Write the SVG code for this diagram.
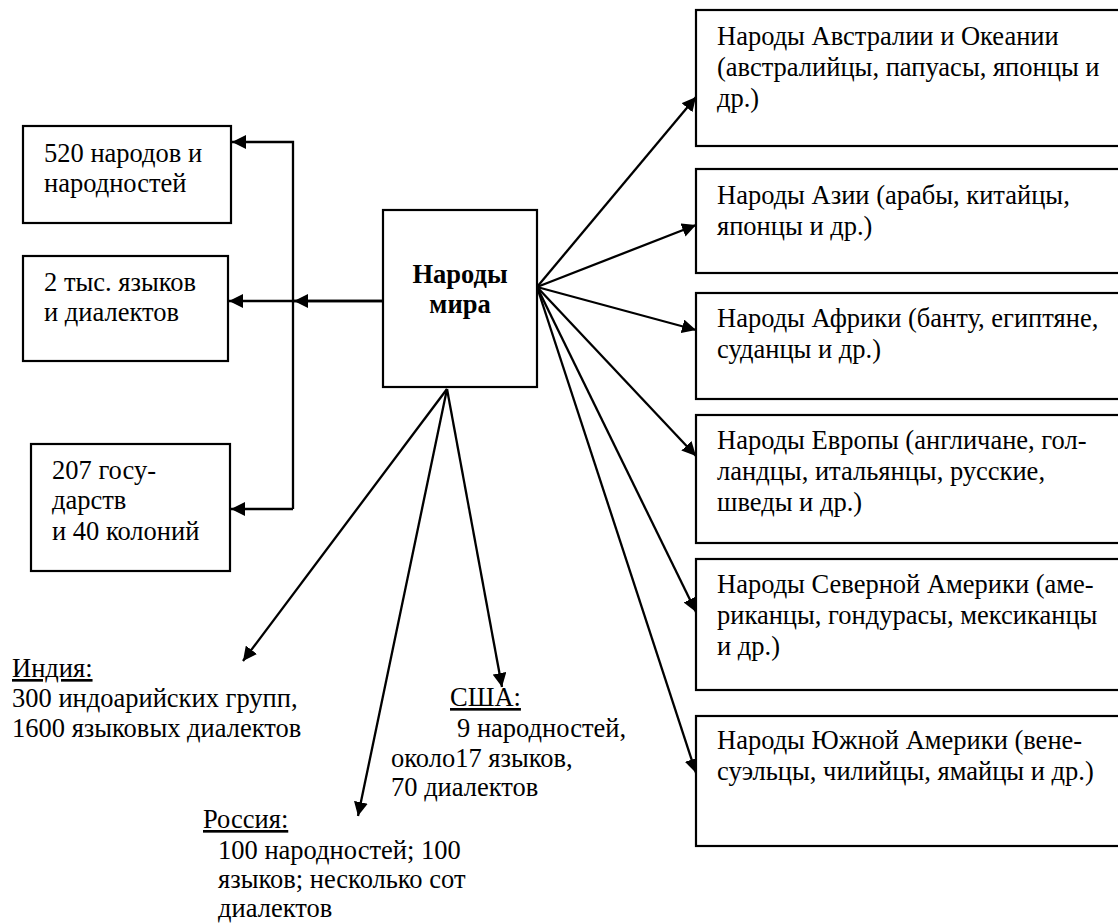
<svg xmlns="http://www.w3.org/2000/svg" width="1118" height="923" viewBox="0 0 1118 923">
<style>
.box{fill:#fff;stroke:#000;stroke-width:2.2}
.t{font-family:'Liberation Serif','Times New Roman',serif;font-size:26.5px;fill:#000}
.b{font-weight:bold;text-anchor:middle}
.u{text-decoration:underline}
.c{fill:none;stroke:#000;stroke-width:2.3}
</style>
<defs>
<marker id="ah" markerUnits="userSpaceOnUse" markerWidth="15" markerHeight="14" refX="14" refY="7" orient="auto">
<path d="M0,0 L14,7 L0,14 z" fill="#000"/>
</marker>
</defs>
<rect width="1118" height="923" fill="#fff"/>
<g id="connectors">
<line class="c" x1="383" y1="301" x2="229" y2="301" marker-end="url(#ah)"/>
<line class="c" x1="383" y1="301" x2="294" y2="301" marker-end="url(#ah)"/>
<polyline class="c" points="293,509 293,142 232,142" marker-end="url(#ah)"/>
<line class="c" x1="293" y1="509" x2="231" y2="509" marker-end="url(#ah)"/>
<line class="c" x1="537" y1="287" x2="696" y2="97" marker-end="url(#ah)"/>
<line class="c" x1="537" y1="287" x2="696" y2="225" marker-end="url(#ah)"/>
<line class="c" x1="537" y1="287" x2="696" y2="330" marker-end="url(#ah)"/>
<line class="c" x1="537" y1="287" x2="696" y2="456" marker-end="url(#ah)"/>
<line class="c" x1="537" y1="287" x2="696" y2="612" marker-end="url(#ah)"/>
<line class="c" x1="537" y1="287" x2="696" y2="773" marker-end="url(#ah)"/>
<line class="c" x1="447" y1="389" x2="243" y2="661" marker-end="url(#ah)"/>
<line class="c" x1="447" y1="389" x2="358" y2="816" marker-end="url(#ah)"/>
<line class="c" x1="447" y1="389" x2="502" y2="687" marker-end="url(#ah)"/>
</g>
<g id="center">
<rect class="box" x="383" y="210" width="154" height="177"/>
<text class="t b" x="460" y="283">Народы</text>
<text class="t b" x="460" y="313">мира</text>
</g>
<g id="n520">
<rect class="box" x="23" y="126" width="208" height="97"/>
<text class="t" x="44" y="162">520 народов и</text>
<text class="t" x="44" y="192">народностей</text>
</g>
<g id="n2tys">
<rect class="box" x="23" y="256" width="205" height="105"/>
<text class="t" x="44" y="291">2 тыс. языков</text>
<text class="t" x="44" y="321">и диалектов</text>
</g>
<g id="n207">
<rect class="box" x="31" y="444" width="199" height="127"/>
<text class="t" x="52" y="479">207 госу-</text>
<text class="t" x="52" y="509">дарств</text>
<text class="t" x="52" y="540">и 40 колоний</text>
</g>
<g id="australia">
<rect class="box" x="696" y="10" width="430" height="136"/>
<text class="t" x="717" y="45">Народы Австралии и Океании</text>
<text class="t" x="717" y="76">(австралийцы, папуасы, японцы и</text>
<text class="t" x="717" y="107">др.)</text>
</g>
<g id="asia">
<rect class="box" x="696" y="169" width="430" height="104"/>
<text class="t" x="717" y="204">Народы Азии (арабы, китайцы,</text>
<text class="t" x="717" y="235">японцы и др.)</text>
</g>
<g id="africa">
<rect class="box" x="696" y="293" width="430" height="106"/>
<text class="t" x="717" y="327">Народы Африки (банту, египтяне,</text>
<text class="t" x="717" y="358">суданцы и др.)</text>
</g>
<g id="europe">
<rect class="box" x="696" y="415" width="430" height="128"/>
<text class="t" x="717" y="449">Народы Европы (англичане, гол-</text>
<text class="t" x="717" y="480">ландцы, итальянцы, русские,</text>
<text class="t" x="717" y="511">шведы и др.)</text>
</g>
<g id="namerica">
<rect class="box" x="696" y="559" width="430" height="131"/>
<text class="t" x="717" y="593">Народы Северной Америки (аме-</text>
<text class="t" x="717" y="624">риканцы, гондурасы, мексиканцы</text>
<text class="t" x="717" y="655">и др.)</text>
</g>
<g id="samerica">
<rect class="box" x="696" y="716" width="430" height="130"/>
<text class="t" x="717" y="749">Народы Южной Америки (вене-</text>
<text class="t" x="717" y="780">суэльцы, чилийцы, ямайцы и др.)</text>
</g>
<g id="india">
<text class="t u" x="12" y="677">Индия:</text>
<text class="t" x="12" y="707">300 индоарийских групп,</text>
<text class="t" x="12" y="737">1600 языковых диалектов</text>
</g>
<g id="usa">
<text class="t u" x="450" y="706">США:</text>
<text class="t" x="457" y="737">9 народностей,</text>
<text class="t" x="391" y="767">около17 языков,</text>
<text class="t" x="391" y="796">70 диалектов</text>
</g>
<g id="russia">
<text class="t u" x="203" y="828">Россия:</text>
<text class="t" x="218" y="859">100 народностей; 100</text>
<text class="t" x="218" y="888">языков; несколько сот</text>
<text class="t" x="218" y="917">диалектов</text>
</g>
</svg>
